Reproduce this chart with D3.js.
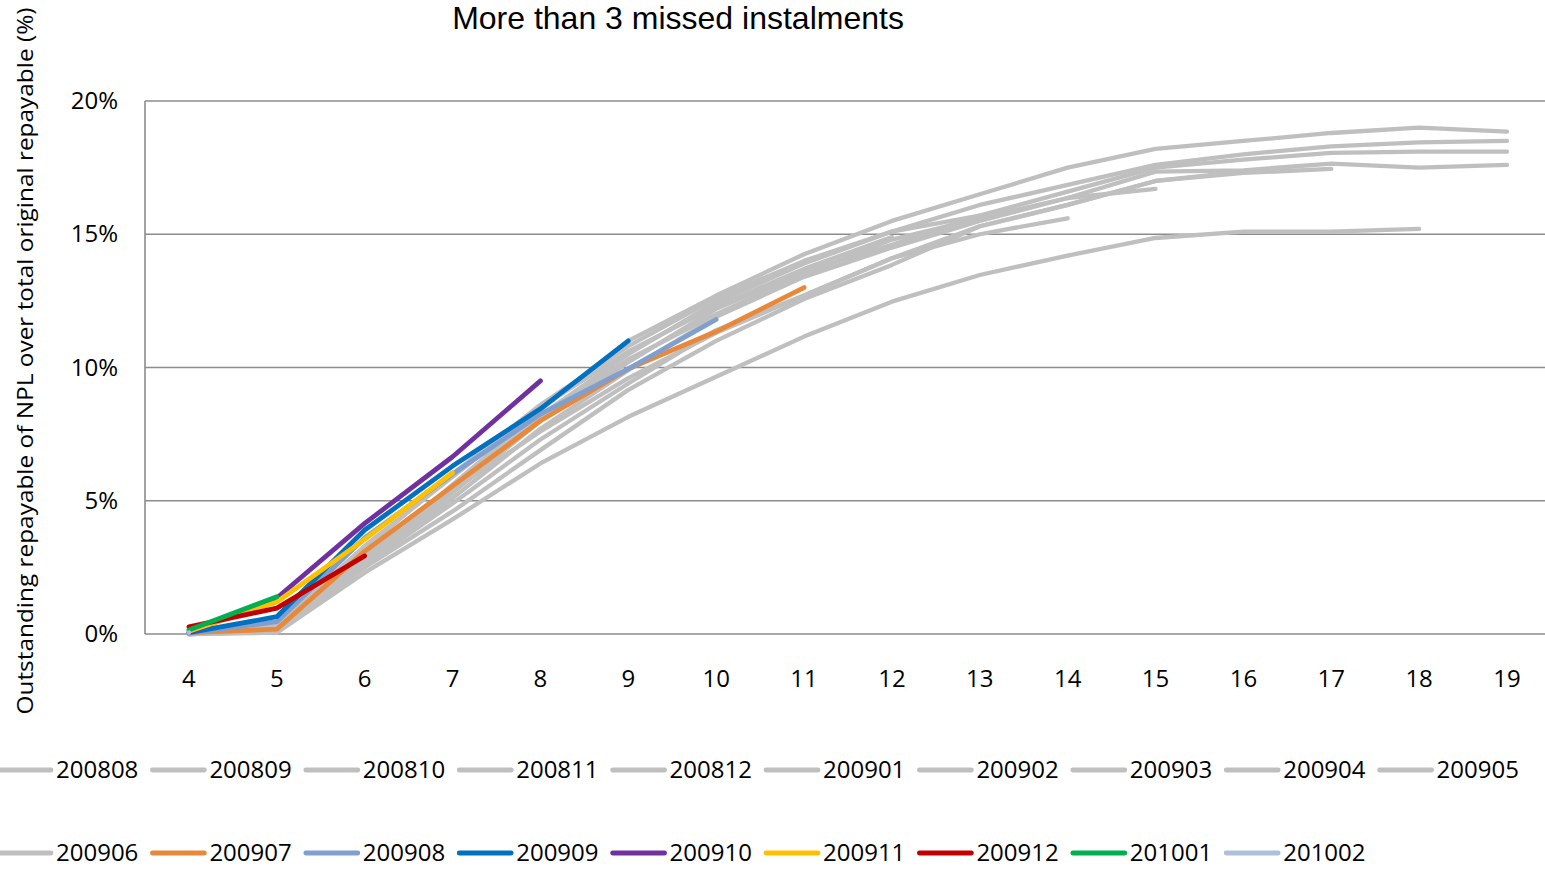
<!DOCTYPE html>
<html>
<head>
<meta charset="utf-8">
<script src="https://cdn.jsdelivr.net/npm/d3@7"></script>
<style>
  body { margin: 0; background: #fff; }
  svg { display: block; }
</style>
</head>
<body>
<script>
const width = 1545, height = 869

// months since origination (x categories)
const months = [4, 5, 6, 7, 8, 9, 10, 11, 12, 13, 14, 15, 16, 17, 18, 19]
const yTicks = [0, 5, 10, 15, 20]

// vintages (series names) and colours
const vintages = ["200808", "200809", "200810", "200811", "200812", "200901", "200902",
    "200903", "200904", "200905", "200906", "200907", "200908", "200909", "200910",
    "200911", "200912", "201001", "201002"]
const colors = ["#bfbfbf", "#bfbfbf", "#bfbfbf", "#bfbfbf", "#bfbfbf", "#bfbfbf", "#bfbfbf",
    "#bfbfbf", "#bfbfbf", "#bfbfbf", "#bfbfbf", "#e8883a", "#7f9fcf", "#0070c0", "#7030a0",
    "#ffc000", "#c00000", "#00b050", "#adbfd9"]

// % of NPL outstanding, one value per month starting at month 4
const s200808 = [0.0, 0.1, 2.8, 5.6, 8.4, 11.0, 12.7, 14.25, 15.5, 16.5, 17.5, 18.2, 18.5, 18.8, 19.0, 18.85]
const s200809 = [0.02, 0.15, 2.7, 5.4, 8.2, 10.5, 12.45, 13.9, 15.1, 16.1, 16.85, 17.6, 18.0, 18.3, 18.45, 18.5]
const s200810 = [0.0, 0.1, 2.6, 5.3, 8.0, 10.2, 12.2, 13.6, 14.6, 15.7, 16.6, 17.5, 17.8, 18.05, 18.1, 18.1]
const s200811 = [0.0, 0.08, 2.5, 5.1, 7.7, 9.9, 11.9, 13.4, 14.5, 15.5, 16.36, 17.35, 17.4, 17.65, 17.5, 17.6]
const s200812 = [0.0, 0.05, 2.3, 4.3, 6.4, 8.15, 9.65, 11.16, 12.47, 13.47, 14.2, 14.86, 15.1, 15.1, 15.2]
const s200901 = [0.0, 0.1, 2.6, 4.9, 7.3, 9.4, 11.4, 12.7, 14.1, 15.3, 16.1, 17.0, 17.3, 17.45]
const s200902 = [0.05, 0.2, 2.5, 4.6, 6.9, 9.16, 11.0, 12.57, 13.85, 15.3, 16.1, 17.0, 17.35]
const s200903 = [0.0, 0.1, 2.8, 5.5, 8.1, 10.3, 12.0, 13.5, 14.8, 15.6, 16.36, 16.7]
const s200904 = [0.0, 0.2, 3.0, 5.4, 7.6, 9.6, 11.3, 12.7, 14.1, 15.0, 15.6]
const s200905 = [0.05, 0.3, 3.2, 6.0, 8.6, 10.8, 12.6, 14.0, 15.1, 15.7]
const s200906 = [0.05, 0.35, 3.3, 5.9, 8.5, 10.6, 12.3, 13.7, 14.9]
const s200907 = [0.05, 0.18, 3.1, 5.55, 8.0, 9.95, 11.35, 13.0]
const s200908 = [0.03, 0.46, 3.6, 6.0, 8.25, 9.95, 11.8]
const s200909 = [0.05, 0.65, 3.9, 6.3, 8.45, 11.0]
const s200910 = [0.05, 1.35, 4.15, 6.65, 9.5]
const s200911 = [0.1, 1.2, 3.55, 6.05]
const s200912 = [0.27, 0.97, 2.93]
const s201001 = [0.15, 1.4]
const s201002 = [0.05]

const seriesValues = [s200808, s200809, s200810, s200811, s200812, s200901, s200902,
    s200903, s200904, s200905, s200906, s200907, s200908, s200909, s200910,
    s200911, s200912, s201001, s201002]

const plotLeft = 145, plotTop = 101, plotBottom = 634

let svg = d3.select("body")
    .append("svg")
    .attr("width", width)
    .attr("height", height)

const x = d3.scaleBand()
    .domain(months)
    .range([plotLeft, plotLeft + 87.87 * months.length])

const y = d3.scaleLinear()
    .domain([0, 20])
    .range([plotBottom, plotTop])

const xc = (m) => x(m) + x.bandwidth() / 2

// title
svg.append("text")
    .attr("x", 678)
    .attr("y", 29)
    .attr("text-anchor", "middle")
    .style("font-family", "'Liberation Sans', Arial, sans-serif")
    .style("font-size", "32px")
    .text("More than 3 missed instalments")

// gridlines
svg.append("g")
    .selectAll("line")
    .data(yTicks)
    .join("line")
    .attr("x1", plotLeft)
    .attr("x2", width)
    .attr("y1", (d) => y(d))
    .attr("y2", (d) => y(d))
    .attr("stroke", "#8c8c8c")
    .attr("stroke-width", 1.6)

svg.append("line")
    .attr("x1", plotLeft).attr("x2", plotLeft)
    .attr("y1", plotTop).attr("y2", plotBottom)
    .attr("stroke", "#8c8c8c")
    .attr("stroke-width", 1.6)

// y axis labels
const yAxis = svg.append("g")
    .attr("transform", `translate(${plotLeft},0)`)
    .call(d3.axisLeft(y).tickValues(yTicks).tickSize(0).tickPadding(27).tickFormat((d) => d + "%"))
yAxis.select(".domain").remove()
yAxis.selectAll("text")
    .style("font-family", "'Open Sans', sans-serif")
    .style("font-size", "24px")
    .attr("fill", "#000")

// x axis labels
const xAxis = svg.append("g")
    .attr("transform", `translate(0,${plotBottom})`)
    .call(d3.axisBottom(x).tickSize(0).tickPadding(36))
xAxis.select(".domain").remove()
xAxis.selectAll("text")
    .style("font-family", "'Open Sans', sans-serif")
    .style("font-size", "24px")
    .attr("fill", "#000")

// y axis title
svg.append("text")
    .attr("transform", "translate(33,361) rotate(-90)")
    .attr("text-anchor", "middle")
    .style("font-family", "'Open Sans', sans-serif")
    .style("font-size", "21px")
    .attr("textLength", 707)
    .attr("lengthAdjust", "spacingAndGlyphs")
    .text("Outstanding repayable of NPL over total original repayable (%)")

// lines
const line = d3.line()
    .x((d, i) => xc(months[i]))
    .y((d) => y(d))

svg.append("g")
    .selectAll("path")
    .data(seriesValues)
    .join("path")
    .attr("d", (d) => line(d))
    .attr("fill", "none")
    .attr("stroke", (d, i) => colors[i])
    .attr("stroke-width", (d, i) => i < 11 ? 4.3 : 4.8)
    .attr("stroke-linecap", "round")
    .attr("stroke-linejoin", "round")

// legend
const legend = svg.append("g")
    .selectAll("g")
    .data(vintages)
    .join("g")
    .attr("transform", (d, i) => `translate(${-1 + 153.4 * (i % 10)},${i < 10 ? 770 : 853})`)

legend.append("line")
    .attr("x1", 0).attr("x2", 52)
    .attr("stroke", (d, i) => colors[i])
    .attr("stroke-width", 4.8)
    .attr("stroke-linecap", "round")

legend.append("text")
    .attr("x", 57)
    .attr("y", 8)
    .style("font-family", "'Open Sans', sans-serif")
    .style("font-size", "24px")
    .text((d) => d)
</script>
</body>
</html>
